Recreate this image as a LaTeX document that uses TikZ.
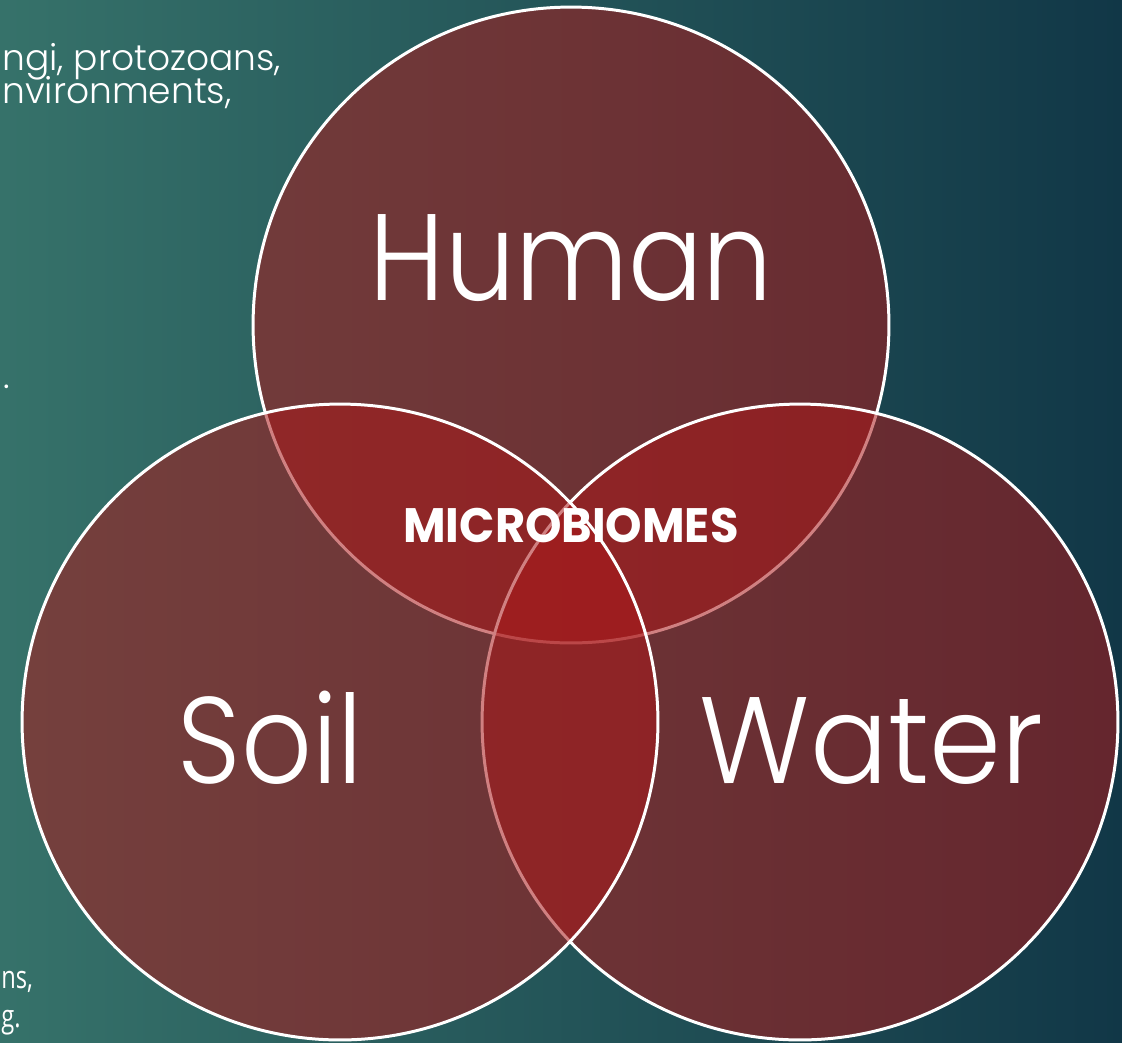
\documentclass[tikz,border=0pt]{standalone}
\usepackage{fontspec}
\setmainfont{Poppins}
\newfontfamily\thinfont{Poppins Light}
\newfontfamily\notefont{Open Sans}
\usetikzlibrary{positioning}

\definecolor{vennred}{RGB}{170,25,26}
\definecolor{slideteal}{RGB}{54,114,106}
\definecolor{slidemid}{RGB}{34,84,89}
\definecolor{slidenavy}{RGB}{17,55,71}

\begin{document}
\begin{tikzpicture}[x=0.02cm,y=-0.02cm]
	\tikzset{set/.style={circle, draw=white, line width=1.7pt, fill=vennred, fill opacity=0.55, minimum size=12.72cm, inner sep=0pt},
		setlabel/.style={text=white, anchor=base, font=\thinfont\fontsize{70}{70}\selectfont\addfontfeatures{FakeStretch=#1}},
		setlabel/.default=0.9,
		sidenote/.style={text=white, anchor=base west, inner xsep=0pt, font=\thinfont\fontsize{20.5}{24}\selectfont}}
	% slide background
	\useasboundingbox (0,0) rectangle (1122,1042);
	\clip (0,0) rectangle (1122,1042);
	\shade[left color=slideteal, middle color=slidemid, right color=slidenavy] (0,0) rectangle (1122,1042);

	% cut off text on the left of the slide
	\node[sidenote] (note1) at (2,70) {ngi, protozoans,};
	\node[sidenote] (note2) at (2,103) {nvironments,};
	\node[sidenote] (note3) at (3,388) {.};
	\node[sidenote, font=\notefont\fontsize{18}{22}\selectfont\addfontfeatures{FakeStretch=0.75}] (note4) at (1,988) {ns,};
	\node[sidenote, font=\notefont\fontsize{18}{22}\selectfont\addfontfeatures{FakeStretch=0.75}] (note5) at (1,1027) {g.};

	% the three sets (order matters for the overlaps)
	\node[set] (human) at (571,325) {};
	\node[set] (water) at (800,722) {};
	\node[set] (soil) at (340,722) {};

	% labels
	\node[setlabel] (humanlabel) at (571.5,300) {Human};
	\node[setlabel] (soillabel) at (270.5,783) {Soil};
	\node[setlabel=0.94] (waterlabel) at (871.5,783) {Water};
	\node[text=white, anchor=base, font=\bfseries\fontsize{27.5}{30}\selectfont\addfontfeatures{FakeStretch=0.96}] (centre) at (571,542) {MICROBIOMES};
\end{tikzpicture}
\end{document}
